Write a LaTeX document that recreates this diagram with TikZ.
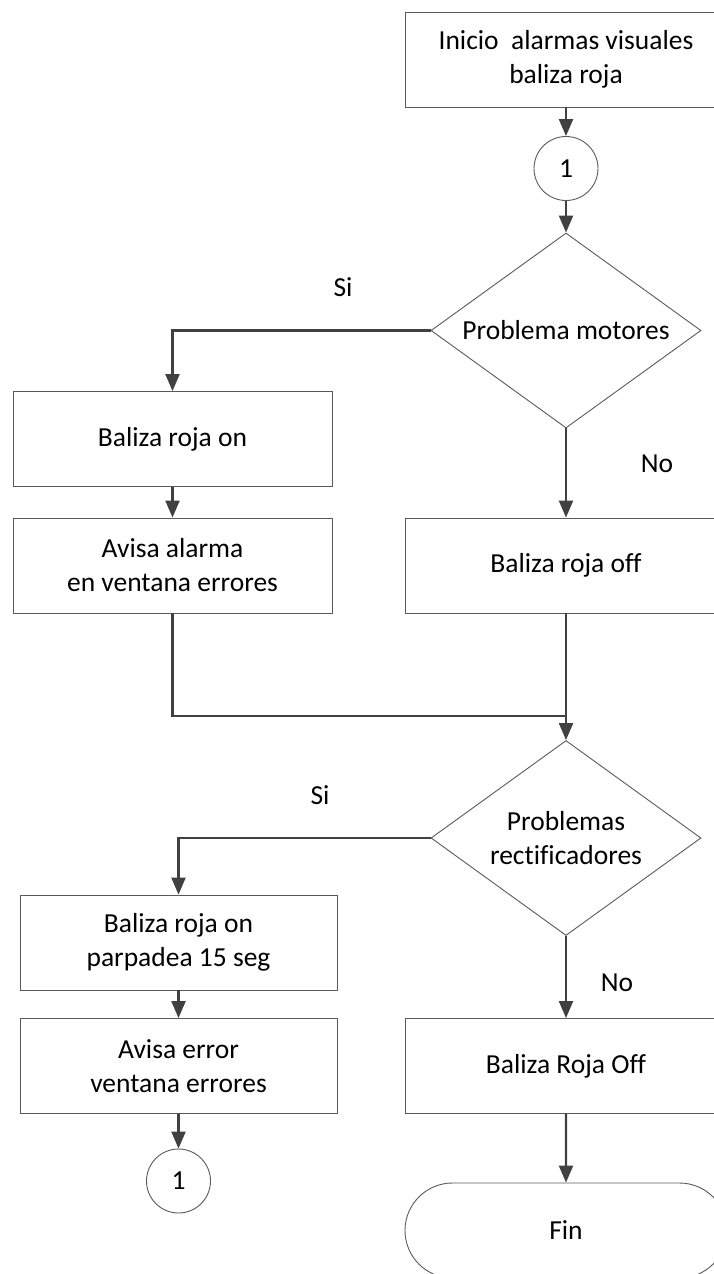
\documentclass[tikz,border=0pt]{standalone}
\usepackage{fontspec}
\setmainfont{Carlito}[Ligatures=NoCommon]
\usetikzlibrary{arrows.meta,shapes.geometric,shapes.misc}

\definecolor{linegray}{HTML}{404040}
\definecolor{boxgray}{HTML}{5A5A5A}

\tikzset{
    txt/.style={font=\fontsize{27.5pt}{34pt}\selectfont, text=black},
    proc/.style={txt, draw=boxgray, line width=0.9pt, minimum width=322pt,
        minimum height=95pt, align=center, inner sep=0pt},
    decision/.style={txt, diamond, aspect=1.385, draw=boxgray, line width=0.9pt,
        minimum width=270pt, minimum height=195pt, align=center, inner sep=0pt},
    connector/.style={txt, circle, draw=boxgray, line width=0.9pt,
        minimum size=64pt, inner sep=0pt},
    terminal/.style={txt, rounded rectangle, draw=boxgray, line width=0.9pt,
        minimum width=322pt, minimum height=95pt, inner sep=0pt},
    wire/.style={draw=linegray, line width=2.2pt},
    link/.style={wire, -{Triangle[length=17pt,width=14pt]}}
}

\begin{document}
\begin{tikzpicture}[x=1pt, y=-1pt]
        \useasboundingbox (0,0) rectangle (714,1274);

        % Start and first check
        \node[proc] (inicio) at (566, 59.5) {Inicio\ \ alarmas visuales\\baliza roja};
        \node[connector] (conA) at (566, 168.5) {1};
        \node[decision] (motores) at (566, 330.5) {Problema motores};

        % Motor branch
        \node[proc, minimum width=319pt] (onA) at (172.5, 439) {Baliza roja on};
        \node[proc, minimum width=319pt] (avisaA) at (172.5, 565.5) {Avisa alarma\\en ventana errores};
        \node[proc] (offA) at (566, 565.5) {Baliza roja off};
        \node[txt] (siA) at (343, 287) {Si};
        \node[txt] (noA) at (657, 464) {No};
        \coordinate (junta) at (566, 716);

        % Rectifier check
        \node[decision] (rectif) at (566, 838) {Problemas\\rectificadores};
        \node[proc, minimum width=317pt] (onB) at (178.5, 942.5) {Baliza roja on\\parpadea 15 seg};
        \node[proc, minimum width=317pt] (avisaB) at (178.5, 1066) {Avisa error\\ventana errores};
        \node[connector] (conB) at (178.5, 1181) {1};
        \node[proc] (offB) at (566, 1066) {Baliza Roja Off};
        \node[terminal] (fin) at (566, 1230.5) {Fin};
        \node[txt] (siB) at (320, 795) {Si};
        \node[txt] (noB) at (617, 983) {No};

        % Connectors
        \draw[link] (inicio) -- (conA);
        \draw[link] (conA) -- (motores);
        \draw[link] (motores.west) -| (onA.north);
        \draw[link] (onA) -- (avisaA);
        \draw[link] (motores.south) -- (offA.north);
        \draw[wire] (avisaA.south) |- (junta);
        \draw[link] (offA.south) -- (rectif.north);
        \draw[link] (rectif.west) -| (onB.north);
        \draw[link] (onB) -- (avisaB);
        \draw[link] (avisaB) -- (conB);
        \draw[link] (rectif.south) -- (offB.north);
        \draw[link] (offB) -- (fin);
    \end{tikzpicture}
\end{document}
